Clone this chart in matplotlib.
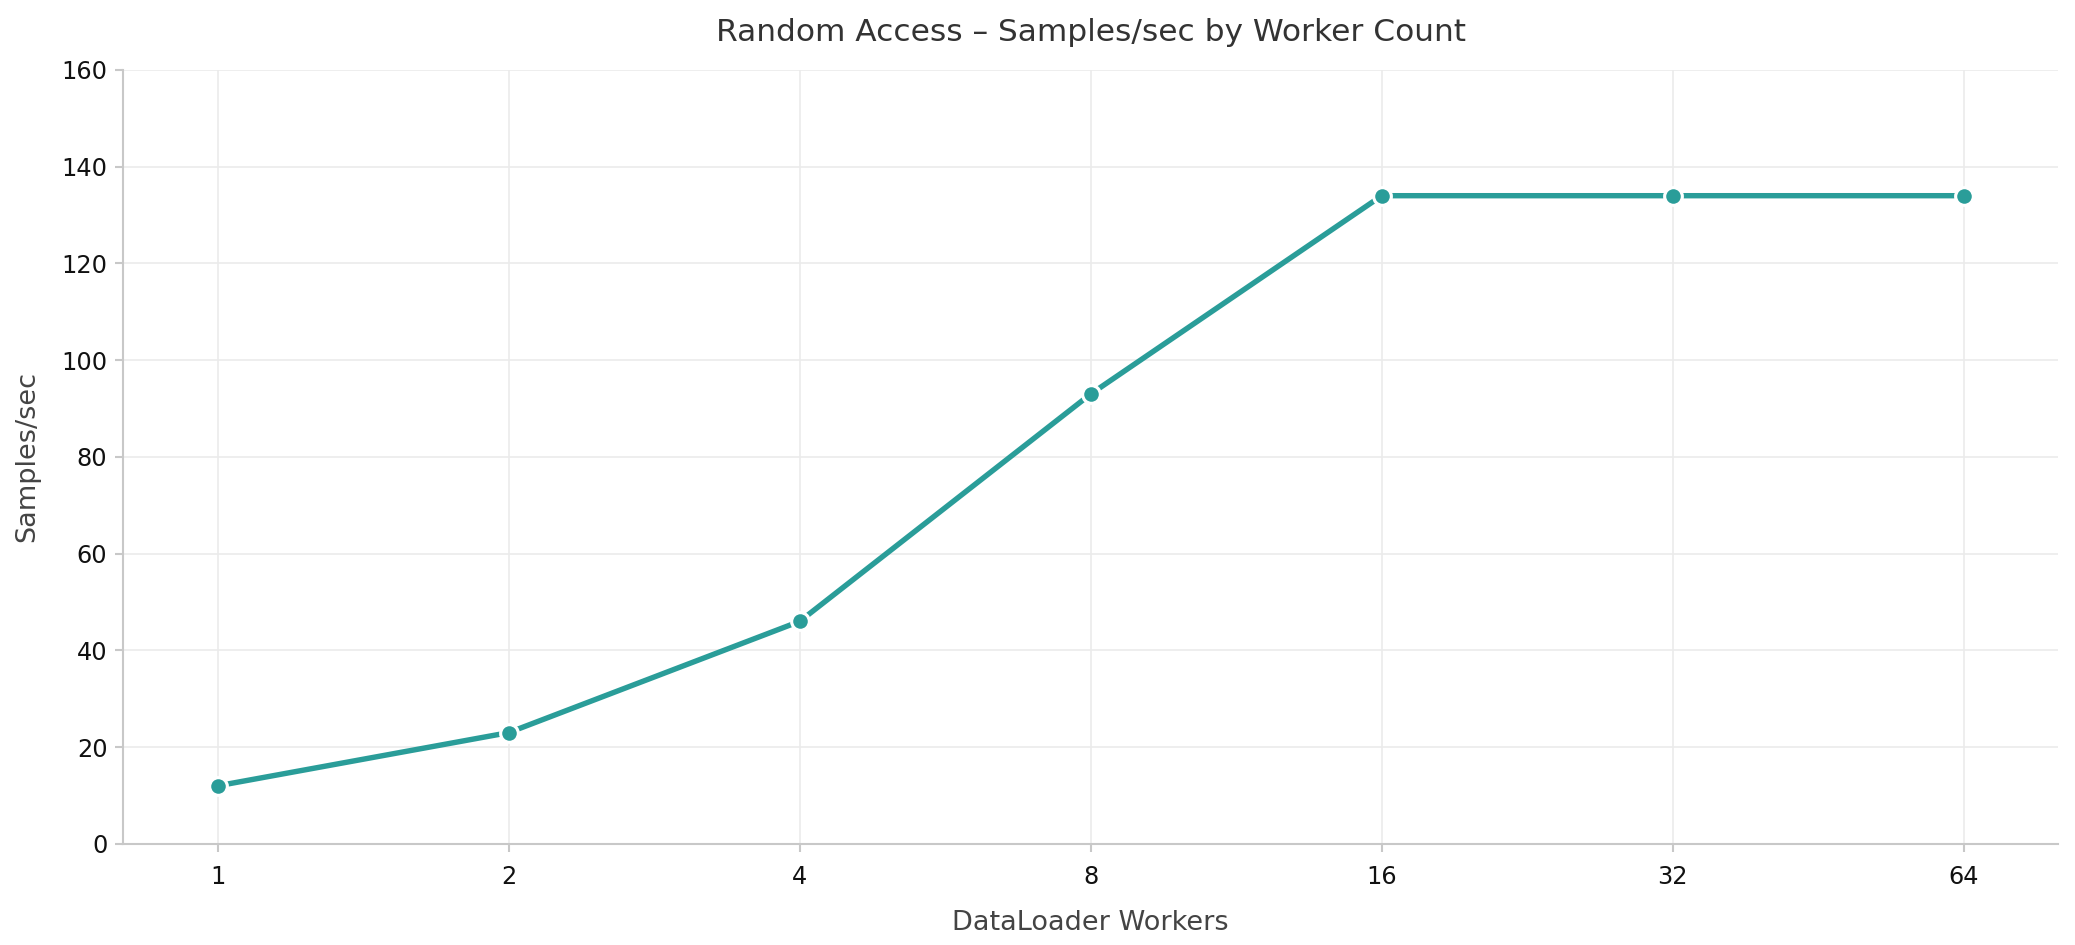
import matplotlib
matplotlib.use("Agg")
import matplotlib.pyplot as plt
import numpy as np

workers = [1, 2, 4, 8, 16, 32, 64]
samples_per_sec = [12, 23, 46, 93, 134, 134, 134]
y_ticks = [0, 20, 40, 60, 80, 100, 120, 140, 160]

plt.rcParams['font.family'] = ['DejaVu Sans']

fig = plt.figure(figsize=(2075 / 150, 945 / 150), dpi=150)
ax = fig.add_axes([0.0593, 0.107, 0.9327, 0.819])

x = np.arange(len(workers))
ax.plot(x, samples_per_sec, color="#2a9d99", linewidth=2.6, marker="o",
        markersize=8.5, markerfacecolor="#2a9d99", markeredgecolor="white",
        markeredgewidth=1.5, zorder=3)

ax.set_xticks(x)
ax.set_xticklabels([str(w) for w in workers])
ax.set_xlim(-0.325, len(workers) - 1 + 0.325)
ax.set_ylim(0, 160)
ax.set_yticks(y_ticks)

ax.grid(True, color="#ebebeb", linewidth=0.8)
ax.set_axisbelow(True)
for s in ["top", "right"]:
    ax.spines[s].set_visible(False)
for s in ["left", "bottom"]:
    ax.spines[s].set_color("#c8c8c8")
    ax.spines[s].set_linewidth(1.0)
ax.tick_params(axis="both", colors="#c8c8c8", labelcolor="#111111",
               labelsize=11.5, length=4, width=1)
ax.tick_params(axis="x", pad=6)

ax.set_title("Random Access \u2013 Samples/sec by Worker Count", fontsize=15,
             color="#333333", pad=14)
ax.set_xlabel("DataLoader Workers", fontsize=13, color="#444444", labelpad=10)
ax.set_ylabel("Samples/sec", fontsize=13, color="#444444", labelpad=10)

fig.savefig("out.png", dpi=150)
